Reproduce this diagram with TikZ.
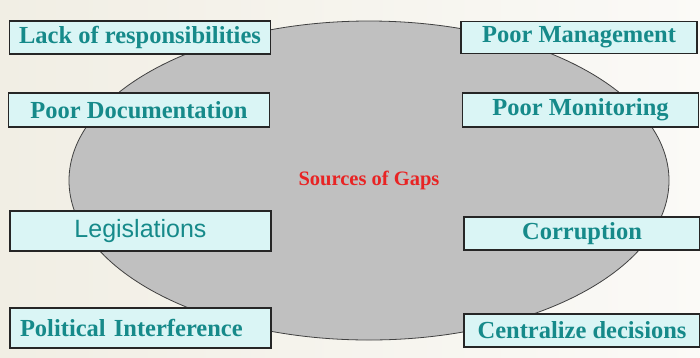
\documentclass[tikz,border=0pt]{standalone}
\usepackage{fontspec}
\setmainfont{Liberation Serif}
\setsansfont{Liberation Sans}
\usetikzlibrary{shapes.geometric}
\definecolor{gapteal}{RGB}{22,138,138}
\definecolor{gapfill}{RGB}{218,245,245}
\definecolor{gapgray}{RGB}{192,192,192}
\definecolor{gapred}{RGB}{232,36,36}
\definecolor{paper}{RGB}{241,238,228}
\begin{document}
\begin{tikzpicture}[x=1pt,y=-1pt,
		causebox/.style={draw=black!85,line width=1.3pt,fill=gapfill,text=gapteal,
			font=\fontsize{24.5}{26}\selectfont\bfseries,inner sep=0pt},
		leftbox/.style={causebox,minimum width=261pt},
		rightbox/.style={causebox,minimum width=236pt}]
		\useasboundingbox (0,0) rectangle (700,357);
		\shade[left color=paper,right color=paper!30] (0,0) rectangle (700,357);
		
		\node[ellipse,draw=black!75,line width=0.8pt,fill=gapgray,minimum width=600pt,minimum height=319pt,
			text=gapred,font=\fontsize{20.5}{22}\selectfont\bfseries] (gaps) at (369,180.5) {Sources of Gaps};
		
		\node[leftbox,minimum height=33pt] (lack) at (140,37.5) {Lack of responsibilities};
		\node[leftbox,minimum height=34pt] (docs) at (139,110) {Poor Documentation};
		\node[leftbox,minimum height=40pt,font=\fontsize{25}{26}\selectfont\sffamily] (laws) at (140.5,231) {\raisebox{3pt}{Legislations}};
		\node[leftbox,minimum height=40pt,text width=241pt,align=left,inner xsep=10pt] (politics) at (140.5,328) {Political Interference};
		
		\node[rightbox,minimum height=32pt] (manage) at (579,37.5) {Poor Management};
		\node[rightbox,minimum height=34pt] (monitor) at (580.5,110) {Poor Monitoring};
		\node[rightbox,minimum height=33pt] (corrupt) at (582,233.5) {Corruption};
		\node[rightbox,minimum height=33pt] (central) at (582,330.5) {Centralize decisions};
	\end{tikzpicture}
\end{document}
